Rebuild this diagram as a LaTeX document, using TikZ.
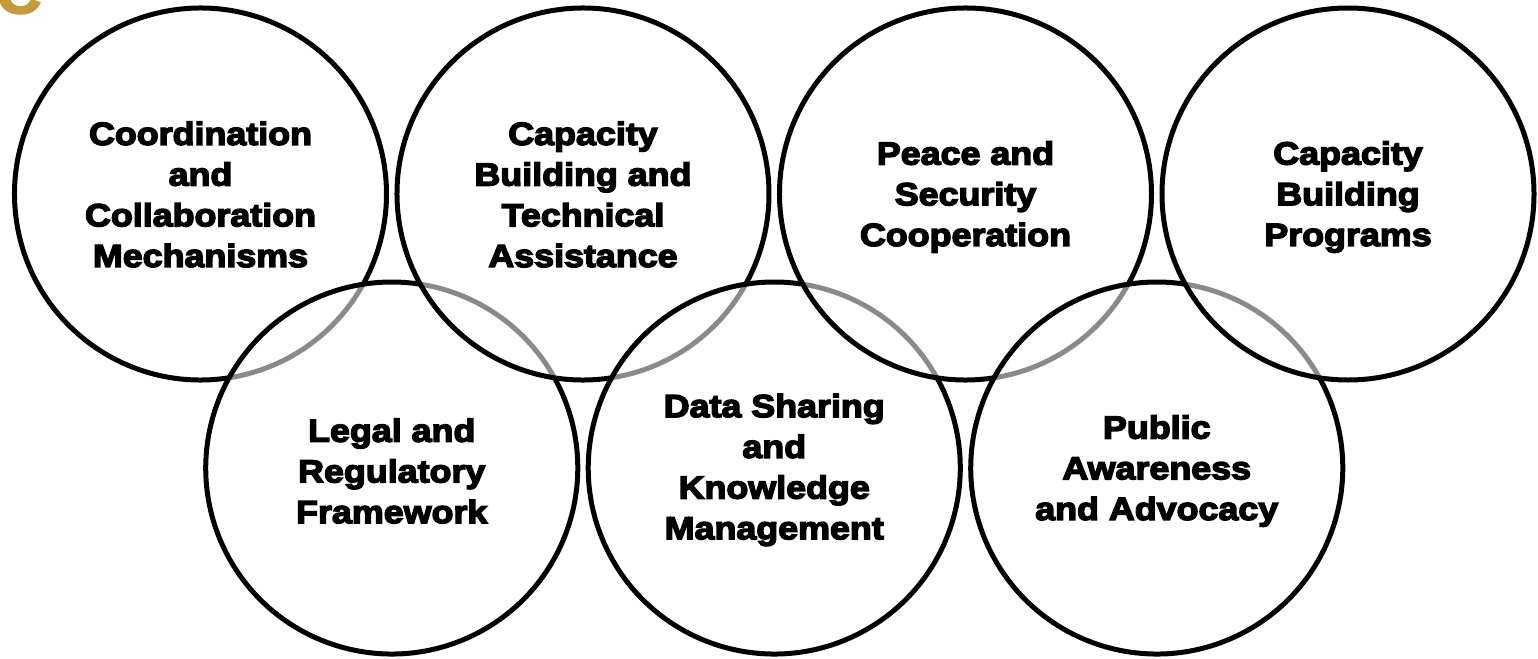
\documentclass[tikz,border=0pt]{standalone}
\usepackage{fontspec}
\usetikzlibrary{calc}
\newfontfamily\heavy[FakeBold=4.5,FakeStretch=1.12]{Liberation Sans}
\definecolor{gold}{HTML}{C49A3C}
\definecolor{ringgray}{HTML}{8A8A8A}
\begin{document}
\begin{tikzpicture}[x=1pt,y=-1pt,
  ring/.style={line width=5pt,black},
  under/.style={line width=5pt,ringgray},
  lbl/.style={align=center,inner sep=0pt,font=\heavy\bfseries\fontsize{32}{40.7}\selectfont}]
\useasboundingbox (0,0) rectangle (1538,658);
\clip (0,0) rectangle (1538,658);
\node[anchor=base west,text=gold,inner sep=0pt,font=\heavy\bfseries\fontsize{54}{54}\selectfont] (logo) at (-3,13) {C};
\foreach \i/\x in {1/200.5,2/583,3/965.5,4/1348} \coordinate (T\i) at (\x,194);
\foreach \i/\x in {1/391.75,2/774.25,3/1156.75} \coordinate (B\i) at (\x,468);
% arcs passing under
\foreach \i in {1,2,3} {
  \draw[under] ($(T\i)+(29:186)$) arc[start angle=29,end angle=81.2,radius=186];
  \draw[under] ($(B\i)+(-81.2:186)$) arc[start angle=-81.2,end angle=-29,radius=186];
}
% arcs passing over
\foreach \i in {1,2,3} {
  \draw[ring] ($(T\i)+(81.2:186)$) arc[start angle=81.2,end angle=389,radius=186];
  \draw[ring] ($(B\i)+(-29:186)$) arc[start angle=-29,end angle=278.8,radius=186];
}
\draw[ring] (T4) circle[radius=186];
% labels
\node[lbl] (l1) at ($(T1)+(0,0.5)$) {Coordination\\and\\Collaboration\\Mechanisms};
\node[lbl] (l2) at ($(T2)+(0,0.5)$) {Capacity\\Building and\\Technical\\Assistance};
\node[lbl] (l3) at ($(T3)+(0,3)$) {Peace and\\Security\\Cooperation};
\node[lbl] (l4) at ($(T4)+(0,3)$) {Capacity\\Building\\Programs};
\node[lbl] (l5) at ($(B1)+(0,3)$) {Legal and\\Regulatory\\Framework};
\node[lbl] (l6) at ($(B2)+(0,2)$) {Data Sharing\\and\\Knowledge\\Management};
\node[lbl] (l7) at ($(B3)+(0,3)$) {Public\\Awareness\\and Advocacy};
\end{tikzpicture}
\end{document}
